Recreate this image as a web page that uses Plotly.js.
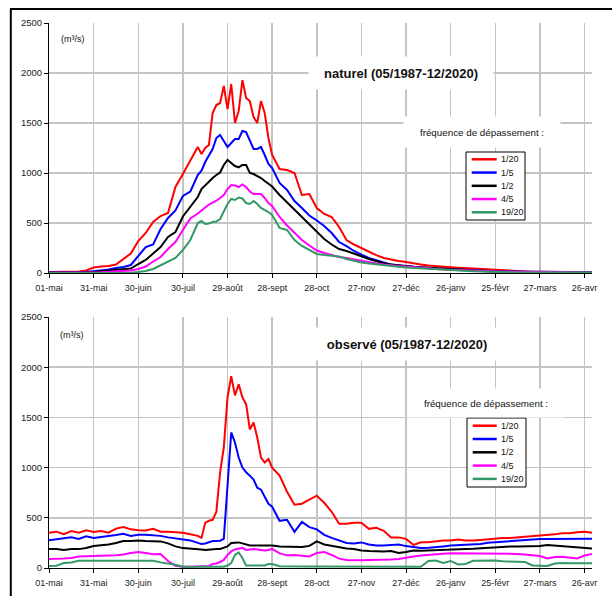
<!DOCTYPE html>
<html>
<head>
<meta charset="utf-8">
<script src="https://cdn.plot.ly/plotly-3.0.1.min.js"></script>
<style>html,body{margin:0;padding:0;background:#fff}#chart{width:612px;height:596px}</style>
</head>
<body>
<div id="chart"></div>
<script>
// ---------- DATA ----------
const days = [0,5,10,15,20,25,30,35,40,45,
  50,55,60,65,70,75,80,85,90,95,
  100,
  102.5,105,107.5,110,112.5,115,117.5,120,122.5,125,
  127.5,130,132.5,135,137.5,140,142.5,145,147.5,
  150,155,160,165,170,175,180,185,190,195,
  200,205,210,215,220,225,230,235,240,245,
  250,255,260,265,270,275,280,285,290,295,
  300,305,310,315,320,325,330,335,340,345,
  350,355,360,365];
const tickDays = [0,30,60,90,120,150,180,210,240,270,300,330,360];
const tickLabels = ['01-mai','31-mai','30-juin','30-juil','29-août','28-sept','28-oct','27-nov','27-déc','26-janv','25-févr','27-mars','26-avr'];
const seriesNames = ['1/20','1/5','1/2','4/5','19/20'];
const titleNat = 'naturel (05/1987-12/2020)';
const titleObs = 'observé (05/1987-12/2020)';
const unitLabel = '(m³/s)';
const legendTitle = 'fréquence de dépassement :';

// naturel
const nat_1_20 = [10,10,10,12,15,25,55,65,70,85, 140,195,320,400,510,570,600,860,990,1120, 1260,
  1190,1250,1280,1600,1680,1700,1870,1640,1890,1500,1620,1930,1750,1720,1560,1500,1720,1600,1350,
  1180,1040,1030,1000,780,790,650,590,560,460, 330,285,250,210,178,150,134,120,110,95,
  85,75,67,60,57,52,50,46,44,38, 33,28,25,20,15,12,12,10,10,10, 10,10,10,10];
const nat_1_5 = [5,5,5,5,8,10,18,25,35,50, 60,80,165,260,285,440,550,625,770,815, 980,
  1023,1110,1180,1240,1350,1380,1320,1260,1300,1340,1340,1420,1410,1320,1240,1240,1260,1180,1090,
  1050,900,830,720,650,575,525,470,400,310, 268,220,184,150,127,105,84,75,67,60,
  55,50,44,40,35,30,27,25,22,20, 17,15,14,13,12,11,10,10,10,9, 8,8,8,8];
const nat_1_2 = [3,3,3,3,4,5,10,18,25,30, 35,45,90,130,195,260,360,410,565,660, 760,
  840,880,920,950,980,1005,1080,1130,1100,1070,1057,1080,1080,1000,990,970,950,920,890,
  865,780,705,630,555,480,410,340,285,240, 220,190,167,140,117,98,84,75,67,62,
  57,52,48,44,40,36,32,28,23,18, 15,13,12,11,10,9,8,7,6,6, 5,5,5,5];
const nat_4_5 = [2,2,2,2,3,4,5,8,12,15, 20,25,40,65,115,160,240,310,430,545, 595,
  630,655,685,700,723,750,780,840,880,875,860,885,860,815,790,790,790,750,700,
  670,560,475,400,330,275,225,200,180,160, 150,135,120,105,95,85,75,70,65,58,
  52,46,40,36,32,28,25,22,20,17, 15,13,12,11,10,9,8,7,5,5, 5,5,5,5];
const nat_19_20 = [0,0,0,0,0,0,0,0,0,0, 2,3,10,20,40,75,110,150,230,330, 500,
  520,490,495,510,515,540,620,690,740,730,755,745,700,690,720,690,650,630,610,
  580,450,430,330,270,230,190,180,172,165, 140,120,105,95,85,75,70,62,55,50,
  45,40,35,31,27,23,20,17,15,12, 10,8,5,5,5,5,5,5,5,5, 5,5,5,5];

// observé
const obs_1_20 = [350,362,336,368,352,375,359,368,352,392, 408,385,375,373,390,362,362,360,352,336, 320,
  300,450,470,480,560,950,1200,1700,1910,1720,1830,1700,1632,1380,1450,1300,1100,1050,1086,
  1000,920,760,630,640,680,720,650,560,440, 440,450,450,390,400,370,305,305,290,230,
  256,256,265,273,273,283,275,273,280,288, 295,300,300,305,310,315,323,323,335,346, 346,356,360,352];
const obs_1_5 = [276,286,296,305,290,315,300,312,318,328, 340,320,330,330,325,320,305,295,286,275, 250,
  240,245,260,268,270,272,290,800,1350,1250,1100,1000,953,920,880,800,780,710,640,
  610,470,480,360,460,407,385,330,300,273, 250,245,255,235,223,223,228,233,218,210,
  200,202,206,215,223,228,233,233,240,252, 258,263,270,273,278,283,288,290,290,290, 285,288,290,292];
const obs_1_2 = [188,188,180,188,188,200,220,225,235,250, 268,270,275,270,270,265,245,215,198,195, 188,
  185,180,185,188,190,190,200,215,250,255,255,245,235,225,225,225,222,220,222,
  225,215,212,210,210,220,265,235,222,205, 195,190,175,170,167,165,170,150,160,175,
  172,175,180,188,190,190,190,192,196,200, 210,213,213,213,213,215,220,230,225,215, 210,205,200,195];
const obs_4_5 = [90,90,95,100,115,118,118,118,125,128, 135,150,160,150,138,140,70,22,13,13, 13,
  13,13,20,40,45,60,80,130,165,185,195,200,180,185,190,185,178,175,180,
  190,145,126,130,120,115,150,160,130,93, 80,76,78,80,80,78,85,90,105,115,
  125,133,138,142,147,147,147,147,147,147, 145,145,145,140,135,125,120,95,110,112, 100,95,125,140];
const obs_19_20 = [20,22,50,55,72,72,72,72,72,72, 72,72,72,72,72,56,45,33,13,12, 12,
  12,12,12,12,12,12,12,25,50,130,155,100,26,26,26,26,26,26,40,
  40,17,15,15,15,15,15,15,13,13, 13,13,13,13,13,13,13,13,13,13,
  13,70,75,50,70,35,40,72,75,75, 75,67,65,65,60,25,20,20,45,50, 47,47,47,47];

// ---------- STYLE / LAYOUT ----------
const seriesColors = ['#ff0000','#0000ff','#000000','#ff00ff','#339966'];
const FONT = 'Arial, "Liberation Sans", sans-serif';
const W = 612, H = 596, L = 49, R = 20, T = 23, B = 28;
const PW = W - L - R, PH = H - T - B;
const px2x = p => (p - L) / PW;
const py2y = p => (H - B - p) / PH;

const natSeries = [nat_1_20, nat_1_5, nat_1_2, nat_4_5, nat_19_20];
const obsSeries = [obs_1_20, obs_1_5, obs_1_2, obs_4_5, obs_19_20];

const traces = [];
function addTraces(list, xa, ya) {
  list.forEach((vals, i) => {
    traces.push({
      type: 'scatter', mode: 'lines', x: days, y: vals,
      xaxis: xa, yaxis: ya, name: seriesNames[i], showlegend: false,
      line: {color: seriesColors[i], width: 2}, hoverinfo: 'skip'
    });
  });
}
addTraces(natSeries, 'x', 'y');
addTraces(obsSeries, 'x2', 'y2');

const gridColor = '#c4c4c4';
function xAxis(anchor) {
  return {
    domain: [0, 1], anchor: anchor, range: [0, 365],
    tickmode: 'array', tickvals: tickDays, ticktext: tickLabels,
    showgrid: true, gridcolor: gridColor, gridwidth: 1.5,
    showline: true, linecolor: '#000', linewidth: 1,
    ticks: 'outside', ticklen: 4, tickcolor: '#000', tickwidth: 1,
    tickfont: {family: FONT, size: 9, color: '#222'},
    ticklabelstandoff: 2,
    zeroline: false, fixedrange: true
  };
}
function yAxis(anchor, dom) {
  return {
    domain: dom, anchor: anchor, range: [0, 2500],
    tickmode: 'linear', tick0: 0, dtick: 500,
    showgrid: true, gridcolor: gridColor, gridwidth: 1.5,
    showline: true, linecolor: '#000', linewidth: 1,
    ticks: 'outside', ticklen: 4, tickcolor: '#000', tickwidth: 1,
    tickfont: {family: FONT, size: 9.5, color: '#222'},
    zeroline: false, fixedrange: true
  };
}

const shapes = [];
const annotations = [];

// outer frame (top and left edges visible)
shapes.push({type: 'line', xref: 'paper', yref: 'paper',
  x0: px2x(10.8), x1: px2x(10.8), y0: py2y(600), y1: py2y(9),
  line: {color: '#000', width: 2}});
shapes.push({type: 'line', xref: 'paper', yref: 'paper',
  x0: px2x(10), x1: px2x(620), y0: py2y(9), y1: py2y(9),
  line: {color: '#000', width: 2}});

function textBox(text, cx, cy, size, bold, w, h) {
  const a = {
    xref: 'paper', yref: 'paper', x: px2x(cx), y: py2y(cy),
    xanchor: 'center', yanchor: 'middle', showarrow: false,
    text: bold ? '<b>' + text + '</b>' : text,
    font: {family: FONT, size: size, color: '#111'}
  };
  if (w) { a.bgcolor = '#ffffff'; a.width = w; a.height = h; a.borderpad = 2; }
  annotations.push(a);
}

function manualLegend(bx0, bx1, by0, by1, rowY0, rowStep, lx0, lx1, tx) {
  shapes.push({type: 'rect', xref: 'paper', yref: 'paper',
    x0: px2x(bx0), x1: px2x(bx1), y0: py2y(by1), y1: py2y(by0),
    fillcolor: '#ffffff', line: {color: '#000', width: 1}});
  seriesNames.forEach((nm, i) => {
    const yy = rowY0 + i * rowStep;
    shapes.push({type: 'line', xref: 'paper', yref: 'paper',
      x0: px2x(lx0), x1: px2x(lx1), y0: py2y(yy), y1: py2y(yy),
      line: {color: seriesColors[i], width: 2.5}});
    annotations.push({xref: 'paper', yref: 'paper', x: px2x(tx), y: py2y(yy),
      xanchor: 'left', yanchor: 'middle', showarrow: false, text: nm,
      font: {family: FONT, size: 9, color: '#111'}});
  });
}

// top panel texts
textBox(unitLabel, 72.7, 38.5, 9, false);
textBox(titleNat, 400.5, 72.5, 13, true, 180, 28);
textBox(legendTitle, 481.7, 131.5, 9.8, false, 152, 26);
manualLegend(466, 525, 152, 220, 159.3, 13.25, 471.7, 496.7, 499);

// bottom panel texts
textBox(unitLabel, 72, 335, 9, false);
textBox(titleObs, 407.2, 344, 13, true, 180, 28);
textBox(legendTitle, 486.2, 403.3, 9.8, false, 152, 24);
manualLegend(467, 526, 418, 487, 425.7, 13.3, 472.7, 496.7, 499);

const layout = {
  width: W, height: H,
  margin: {l: L, r: R, t: T, b: B, pad: 0},
  paper_bgcolor: '#ffffff', plot_bgcolor: '#ffffff',
  showlegend: false,
  font: {family: FONT, size: 9, color: '#222'},
  xaxis: xAxis('y'),
  yaxis: yAxis('x', [py2y(273), 1]),
  xaxis2: xAxis('y2'),
  yaxis2: yAxis('x2', [0, py2y(317)]),
  shapes: shapes,
  annotations: annotations
};

Plotly.newPlot('chart', traces, layout, {staticPlot: true, displayModeBar: false});
</script>
</body>
</html>
